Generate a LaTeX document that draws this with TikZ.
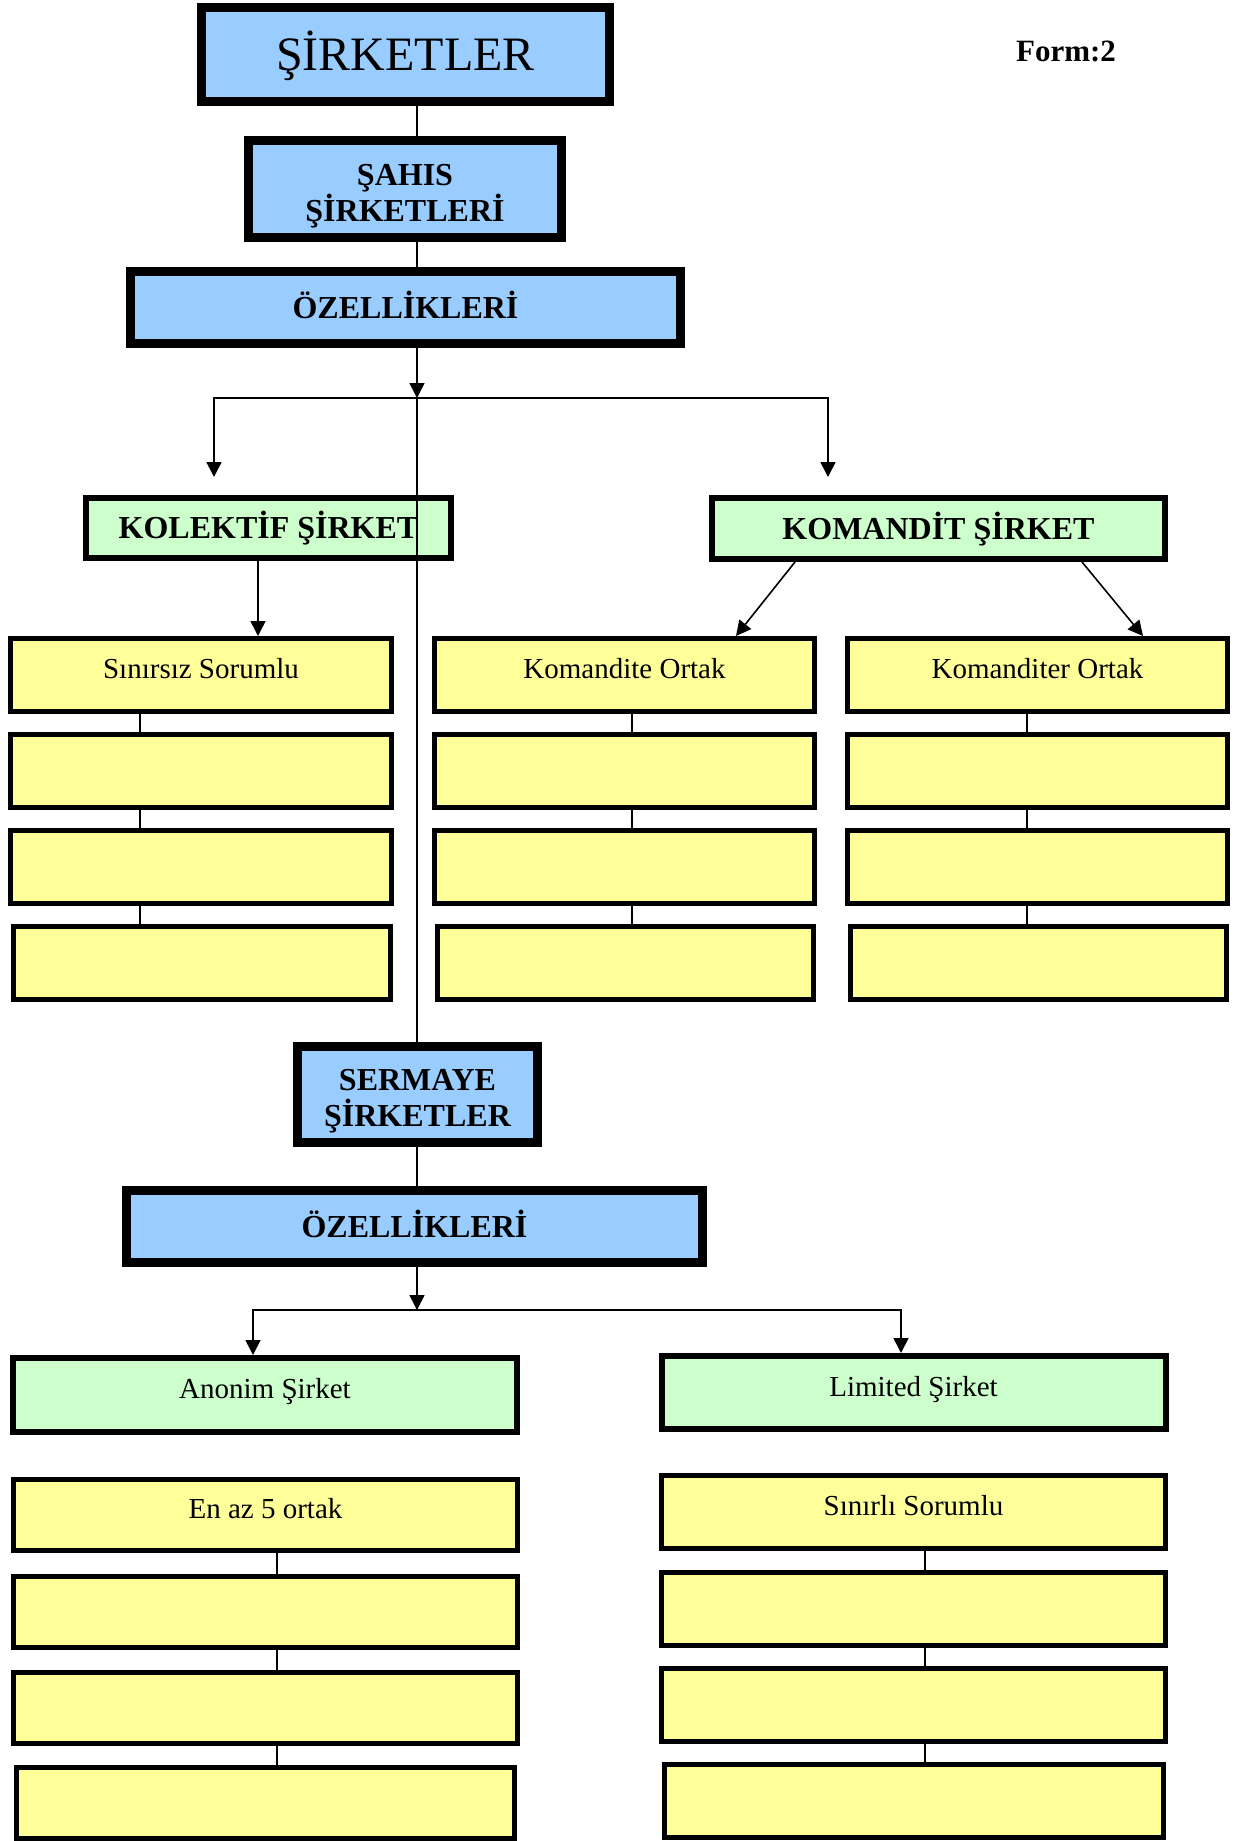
\documentclass[tikz,border=0pt]{standalone}
\usepackage{fontspec}
\setmainfont{Liberation Serif}
\usepackage{tikz}
\usetikzlibrary{arrows.meta, positioning}
\definecolor{hdrblue}{RGB}{153,204,255}
\definecolor{hdrgreen}{RGB}{204,255,204}
\definecolor{hdryellow}{RGB}{255,255,153}
\tikzset{
  bluebox/.style={rectangle, draw=black, fill=hdrblue, line width=4.5pt,
    inner sep=0pt, align=center, text depth=0pt,
    font=\bfseries\fontsize{16}{18}\selectfont},
  greenbox/.style={rectangle, draw=black, fill=hdrgreen, line width=3pt,
    inner sep=0pt, align=center, text height=10.15pt, text depth=6.5pt,
    font=\fontsize{14.5}{17}\selectfont},
  yellowbox/.style={rectangle, draw=black, fill=hdryellow, line width=2.5pt,
    inner sep=0pt, align=center, minimum height=36.5pt,
    text height=10.15pt, text depth=6.5pt,
    font=\fontsize{14.5}{17}\selectfont},
  headtext/.style={font=\bfseries\fontsize{16}{18}\selectfont,
    text height=10.6pt, text depth=0pt},
  arrow/.style={-{Triangle[length=7.5pt, width=7.5pt]}, line width=0.8pt},
  line/.style={line width=0.8pt}
}

\begin{document}
\begin{tikzpicture}[x=0.5pt, y=-0.5pt]
  \useasboundingbox (0,0) rectangle (1233,1841);
  % Title and Form number
  \node[bluebox, minimum width=204pt, minimum height=47pt, text height=15.9pt,
    font=\fontsize{24}{28}\selectfont] (sirk) at (405.5,54.5) {ŞİRKETLER};
  \node[anchor=base, font=\bfseries\fontsize{15.5}{18}\selectfont] (form) at (1066,62) {Form:2};
  % Sahis sirketleri
  \node[bluebox, minimum width=156.5pt, minimum height=48.5pt, text height=32pt] (sahis) at (405,189) {ŞAHIS\\ŞİRKETLERİ};
  \node[bluebox, minimum width=275pt, minimum height=36pt, text height=10.6pt] (ozel1) at (405.5,307.5) {ÖZELLİKLERİ};
  \node[greenbox, headtext, minimum width=182.5pt, minimum height=30pt] (kol) at (268.5,528) {KOLEKTİF ŞİRKET};
  \node[greenbox, headtext, minimum width=226.5pt, minimum height=30.5pt] (kom) at (938.5,528.5) {KOMANDİT ŞİRKET};
  % Kolektif column
  \node[yellowbox, minimum width=190.5pt] (a1) at (201,675) {Sınırsız Sorumlu};
  \node[yellowbox, minimum width=190.5pt] (a2) at (201,771) {};
  \node[yellowbox, minimum width=190.5pt] (a3) at (201,867) {};
  \node[yellowbox, minimum width=188.5pt] (a4) at (202,963) {};
  % Komandite column
  \node[yellowbox, minimum width=190pt] (b1) at (624.5,675) {Komandite Ortak};
  \node[yellowbox, minimum width=190pt] (b2) at (624.5,771) {};
  \node[yellowbox, minimum width=190pt] (b3) at (624.5,867) {};
  \node[yellowbox, minimum width=188pt] (b4) at (625.5,963) {};
  % Komanditer column
  \node[yellowbox, minimum width=190pt] (c1) at (1037.5,675) {Komanditer Ortak};
  \node[yellowbox, minimum width=190pt] (c2) at (1037.5,771) {};
  \node[yellowbox, minimum width=190pt] (c3) at (1037.5,867) {};
  \node[yellowbox, minimum width=188pt] (c4) at (1038.5,963) {};
  % Sermaye sirketleri
  \node[bluebox, minimum width=120pt, minimum height=48pt, text height=32pt] (serm) at (417.5,1094.5) {SERMAYE\\ŞİRKETLER};
  \node[bluebox, minimum width=288pt, minimum height=36pt, text height=10.6pt] (ozel2) at (414.5,1226.5) {ÖZELLİKLERİ};
  \node[greenbox, minimum width=252pt, minimum height=37pt] (anon) at (265,1395) {Anonim Şirket};
  \node[greenbox, minimum width=252pt, minimum height=36.5pt] (lim) at (913.5,1392.5) {Limited Şirket};
  % Anonim column
  \node[yellowbox, minimum width=252pt, minimum height=35.5pt] (d1) at (265.5,1515) {En az 5 ortak};
  \node[yellowbox, minimum width=252pt, minimum height=35.5pt] (d2) at (265.5,1611.5) {};
  \node[yellowbox, minimum width=252pt, minimum height=35.5pt] (d3) at (265.5,1707.5) {};
  \node[yellowbox, minimum width=249pt, minimum height=35.5pt] (d4) at (265.5,1802.5) {};
  % Limited column
  \node[yellowbox, minimum width=252pt] (e1) at (913.5,1512) {Sınırlı Sorumlu};
  \node[yellowbox, minimum width=252pt] (e2) at (913.5,1609) {};
  \node[yellowbox, minimum width=252pt] (e3) at (913.5,1705) {};
  \node[yellowbox, minimum width=249.5pt] (e4) at (914,1801) {};
  % Connector positions
  \coordinate (trunk) at (417,398);
  \coordinate (kolin) at (214,477);
  \coordinate (komin) at (828,477);
  \coordinate (kx) at (258,0);
  \coordinate (ax) at (140,0);
  \coordinate (bx) at (632,0);
  \coordinate (cx) at (1027,0);
  \coordinate (split) at (417,1310);
  \coordinate (anx) at (253,0);
  \coordinate (limx) at (901,0);
  \coordinate (dx) at (277,0);
  \coordinate (ex) at (925,0);
  % Upper tree
  \draw[line] (sirk.south -| trunk) -- (sahis.north -| trunk);
  \draw[line] (sahis.south -| trunk) -- (ozel1.north -| trunk);
  \draw[arrow] (ozel1.south -| trunk) -- (trunk);
  \draw[arrow] (trunk) -| (kolin);
  \draw[arrow] (trunk) -| (komin);
  \draw[line] (trunk) -- (serm.north -| trunk);
  \draw[arrow] (kol.south -| kx) -- (a1.north -| kx);
  \draw[arrow] ([xshift=-71.75pt]kom.south) -- ([xshift=55.75pt]b1.north);
  \draw[arrow] ([xshift=71.75pt]kom.south) -- ([xshift=52.75pt]c1.north);
  \draw[line] (a1.south -| ax) -- (a2.north -| ax) (a2.south -| ax) -- (a3.north -| ax) (a3.south -| ax) -- (a4.north -| ax);
  \draw[line] (b1.south -| bx) -- (b2.north -| bx) (b2.south -| bx) -- (b3.north -| bx) (b3.south -| bx) -- (b4.north -| bx);
  \draw[line] (c1.south -| cx) -- (c2.north -| cx) (c2.south -| cx) -- (c3.north -| cx) (c3.south -| cx) -- (c4.north -| cx);
  % Lower tree
  \draw[line] (serm.south -| split) -- (ozel2.north -| split);
  \draw[arrow] (ozel2.south -| split) -- (split);
  \draw[arrow] (split) -| (anon.north -| anx);
  \draw[arrow] (split) -| (lim.north -| limx);
  \draw[line] (d1.south -| dx) -- (d2.north -| dx) (d2.south -| dx) -- (d3.north -| dx) (d3.south -| dx) -- (d4.north -| dx);
  \draw[line] (e1.south -| ex) -- (e2.north -| ex) (e2.south -| ex) -- (e3.north -| ex) (e3.south -| ex) -- (e4.north -| ex);
\end{tikzpicture}
\end{document}
